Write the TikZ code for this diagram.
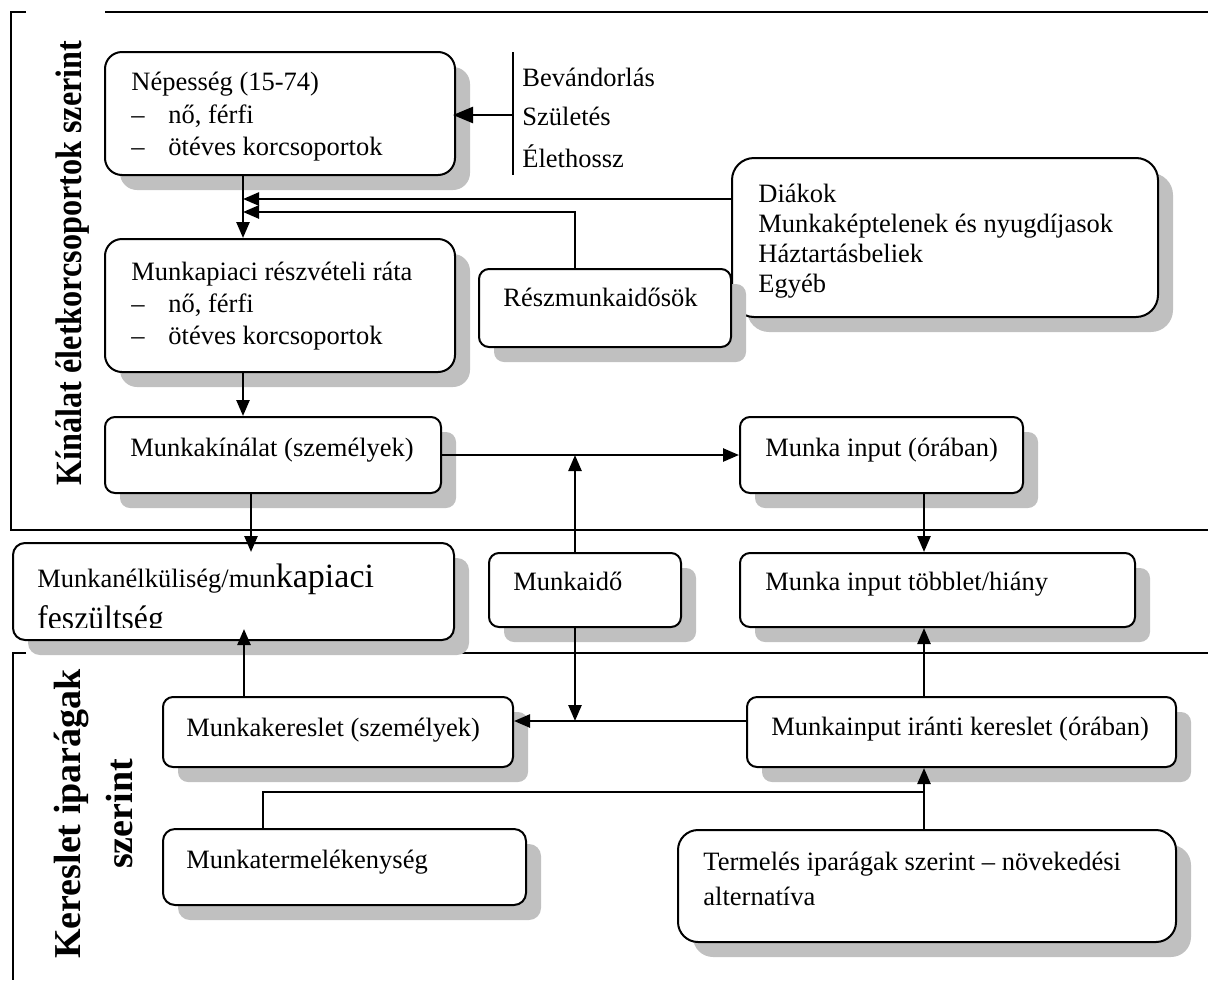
\documentclass[tikz,border=0pt]{standalone}
\usepackage{fontspec}
\usepackage{graphicx}
\setmainfont{Liberation Serif}
\usetikzlibrary{fit,calc,arrows.meta}
\definecolor{shadowgray}{RGB}{192,192,192}
\tikzset{
  boxs/.style={draw, line width=1pt, fill=white, inner sep=0pt},
  txt/.style={anchor=base west, inner sep=0pt, font=\fontsize{13.25}{15}\selectfont},
  conn/.style={line width=1.25pt},
  arr/.style={conn, -{Triangle[length=8pt,width=6.5pt]}},
  bigarr/.style={conn, -{Triangle[length=10pt,width=8pt]}},
  framel/.style={line width=1pt},
  lbl/.style={rotate=90, anchor=base, inner sep=0pt},
}
\newcommand\mybox[6]{%
  \fill[shadowgray, rounded corners=#6] (#2+15,#3+15) rectangle (#4+15,#5+15);
  \node[boxs, rounded corners=#6, fit={(#2,#3) (#4,#5)}] (#1) {};
}
\begin{document}
\begin{tikzpicture}[x=0.5pt,y=-0.5pt]
\useasboundingbox (0,0) rectangle (1208,980);
% frames
\draw[framel] (26,12) -- (11,12) -- (11,530) -- (1208,530);
\draw[framel] (105,12) -- (1208,12);
\draw[framel] (26,653) -- (13,653) -- (13,980);
\draw[framel] (151,653) -- (1208,653);
% section labels
\node[lbl, font=\fontsize{18.5}{20}\selectfont\bfseries] (lsupply) at (81,263) {\scalebox{0.87}[1]{Kínálat életkorcsoportok szerint}};
\node[lbl, font=\fontsize{19}{21}\selectfont\bfseries] (ldemand1) at (80,814) {Kereslet iparágak};
\node[lbl, font=\fontsize{19}{21}\selectfont\bfseries] (ldemand2) at (132,814) {szerint};
% boxes
\mybox{nep}{105}{52}{455}{175}{8.5pt}
\mybox{mpr}{105}{239}{455}{372}{8.5pt}
\mybox{dia}{732}{158}{1158}{317}{11pt}
\mybox{resz}{479}{269}{731}{347}{5pt}
\mybox{mk}{105}{417}{441}{493}{5pt}
\mybox{mi}{740}{417}{1023}{493}{5pt}
\mybox{mnk}{13}{543}{454}{640}{6pt}
\mybox{mido}{489}{553}{681}{627}{5pt}
\mybox{tob}{740}{553}{1135}{627}{5pt}
\mybox{mker}{163}{697}{513}{767}{5pt}
\mybox{mii}{747}{697}{1176}{767}{5pt}
\mybox{mt}{163}{829}{526}{905}{6pt}
\mybox{term}{678}{830}{1176}{942}{10pt}
% texts
\node[txt] (nep-t1) at (131,90) {Népesség (15-74)};
\node[txt] (nep-d2) at (131,123) {–};
\node[txt] (nep-t2) at (168,123) {nő, férfi};
\node[txt] (nep-d3) at (131,155) {–};
\node[txt] (nep-t3) at (168,155) {ötéves korcsoportok};
\node[txt] (bev-t1) at (522,86) {Bevándorlás};
\node[txt] (bev-t2) at (522,125) {Születés};
\node[txt] (bev-t3) at (522,167) {Élethossz};
\node[txt] (dia-t1) at (758,202) {Diákok};
\node[txt] (dia-t2) at (758,232) {Munkaképtelenek és nyugdíjasok};
\node[txt] (dia-t3) at (758,262) {Háztartásbeliek};
\node[txt] (dia-t4) at (758,292) {Egyéb};
\node[txt] (mpr-t1) at (131,280) {Munkapiaci részvételi ráta};
\node[txt] (mpr-d2) at (131,312) {–};
\node[txt] (mpr-t2) at (168,312) {nő, férfi};
\node[txt] (mpr-d3) at (131,344) {–};
\node[txt] (mpr-t3) at (168,344) {ötéves korcsoportok};
\node[txt] (resz-t) at (503,306) {Részmunkaidősök};
\node[txt] (mk-t) at (130,456) {Munkakínálat (személyek)};
\node[txt] (mi-t) at (765,456) {Munka input (órában)};
\begin{scope}
  \clip (13,543) rectangle (454,627);
  \node[txt] (mnk-t1) at (37,587) {Munkanélküliség/mun{\fontsize{17}{19}\selectfont kapiaci}};
  \node[txt, font=\fontsize{17}{19}\selectfont] (mnk-t2) at (37,629) {\scalebox{0.93}[1]{feszültség}};
\end{scope}
\node[txt] (mido-t) at (513,590) {Munkaidő};
\node[txt] (tob-t) at (765,590) {Munka input többlet/hiány};
\node[txt] (mker-t) at (186,736) {Munkakereslet (személyek)};
\node[txt] (mii-t) at (771,735) {Munkainput iránti kereslet (órában)};
\node[txt] (mt-t) at (186,868) {Munkatermelékenység};
\node[txt] (term-t1) at (703,870) {Termelés iparágak szerint – növekedési};
\node[txt] (term-t2) at (703,905) {alternatíva};
% helper coordinates
\coordinate (bvtop) at (513,52);
\coordinate (bvbot) at (513,175);
\coordinate (bvmid) at (513,115);
\coordinate (cxa) at (243,0);
\coordinate (cxb) at (575,0);
\coordinate (cxc) at (251,0);
\coordinate (cxd) at (924,0);
\coordinate (cxe) at (244,0);
\coordinate (cxf) at (263,0);
\coordinate (ja) at (243,199);
\coordinate (jb) at (243,212);
\coordinate (cya) at (0,455);
\coordinate (cyb) at (0,721);
\coordinate (cyc) at (0,792);
% connectors
\draw[conn] (bvtop) -- (bvbot);
\draw[bigarr] (bvmid) -- ($(bvmid -| nep.east)+(-3,0)$);
\draw[arr] (nep.south -| cxa) -- (mpr.north -| cxa);
\draw[arr] (dia.west |- ja) -- (ja);
\draw[arr] (resz.north -| cxb) |- (jb);
\draw[arr] (mpr.south -| cxa) -- (mk.north -| cxa);
\draw[arr] (mk.east |- cya) -- (mi.west |- cya);
\draw[arr] (mido.north -| cxb) -- (cxb |- cya);
\draw[arr] (mk.south -| cxc) -- ($(mnk.north -| cxc)+(0,10)$);
\draw[arr] (mi.south -| cxd) -- (tob.north -| cxd);
\draw[arr] (mker.north -| cxe) -- ($(mnk.south -| cxe)+(0,-12)$);
\draw[arr] (mido.south -| cxb) -- (cxb |- cyb);
\draw[arr] (mii.west |- cyb) -- (mker.east |- cyb);
\draw[arr] (mii.north -| cxd) -- (tob.south -| cxd);
\draw[arr] (term.north -| cxd) -- (mii.south -| cxd);
\draw[conn] (mt.north -| cxf) |- (cxd |- cyc);
\end{tikzpicture}
\end{document}
